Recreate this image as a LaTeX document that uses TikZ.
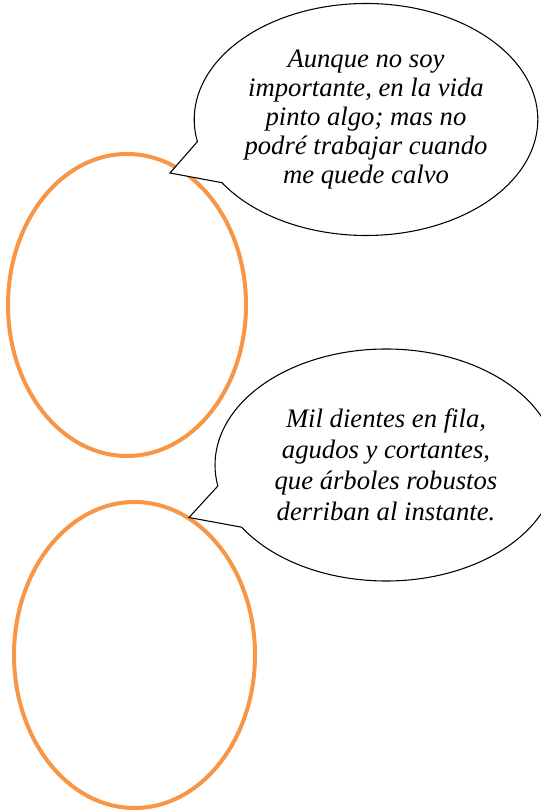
\documentclass[tikz,border=0pt]{standalone}
\usepackage{fontspec}
\setmainfont{Liberation Serif}
\usepackage{tikz}
\usetikzlibrary{shapes.geometric, shapes.callouts}
\definecolor{answerorange}{HTML}{F79646}

\begin{document}
\begin{tikzpicture}[
        x=0.75pt,
        y=0.75pt,
        answerring/.style={
            ellipse,
            draw=answerorange,
            line width=3pt,
            inner sep=0pt
        },
        riddlebubble/.style={
            ellipse callout,
            draw=black,
            fill=white,
            line width=0.8pt,
            inner sep=0pt,
            minimum width=256.5pt,
            minimum height=174pt,
            callout pointer arc=22,
            align=center
        }
    ]

        \useasboundingbox (0,0) rectangle (541,812);

        % Ovalos para la respuesta
        \node[
            answerring,
            minimum width=178.5pt,
            minimum height=226.5pt
        ] (answerA) at (127,507) {};

        \node[
            answerring,
            minimum width=180.75pt,
            minimum height=229.5pt
        ] (answerB) at (134.5,157) {};

        % Puntas de los globos
        \coordinate (tipA) at (170,639);
        \coordinate (tipB) at (189,294.5);

        % Adivinanza 1
        \node[
            riddlebubble,
            callout absolute pointer={(tipA)},
            font=\fontsize{20}{21.6}\selectfont\itshape
        ] (riddleA) at (366,692.5)
            {Aunque no soy\\importante, en la vida\\pinto algo; mas no\\podré trabajar cuando\\me quede calvo};

        % Adivinanza 2
        \node[
            riddlebubble,
            callout absolute pointer={(tipB)},
            font=\fontsize{20}{23.3}\selectfont\itshape
        ] (riddleB) at (386,347)
            {Mil dientes en fila,\\agudos y cortantes,\\que árboles robustos\\derriban al instante.};

    \end{tikzpicture}
\end{document}
